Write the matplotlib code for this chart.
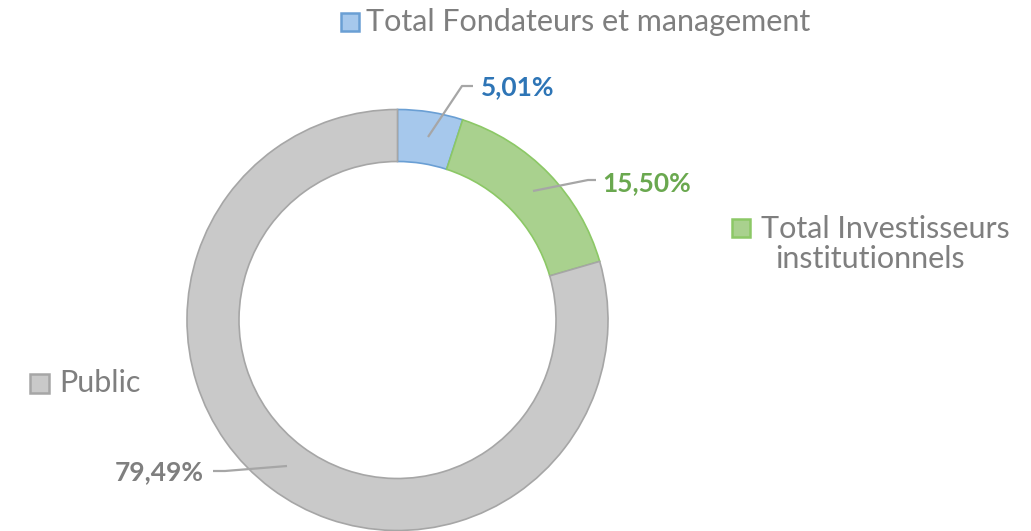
import matplotlib
matplotlib.use("Agg")
import matplotlib.pyplot as plt
from matplotlib.patches import Rectangle

# Shareholding breakdown
categories = ["Total Fondateurs et management", "Total Investisseurs\ninstitutionnels", "Public"]
shares = [5.01, 15.50, 79.49]
fill_colors = ["#a6c8ec", "#a9d18e", "#c9c9c9"]
edge_colors = ["#6a9fd4", "#8cc866", "#a6a6a6"]
label_colors = ["#2e75b6", "#6aa84f", "#7f7f7f"]

W, H = 1031, 531
plt.rcParams["font.family"] = ["Lato", "DejaVu Sans"]

fig = plt.figure(figsize=(W / 100, H / 100), dpi=100)
ax = fig.add_axes([0, 0, 1, 1])
ax.set_xlim(0, W)
ax.set_ylim(0, H)
ax.set_aspect("equal")
ax.axis("off")


def Y(y):
    """Convert a top-down pixel row into the axes' bottom-up coordinate."""
    return H - y


cx, cy, r_out, ring = 397.5, 320, 210.5, 52
wedges, _ = ax.pie(
    shares, colors=fill_colors, startangle=90, counterclock=False,
    radius=r_out, center=(cx, Y(cy)),
    wedgeprops=dict(width=ring, linewidth=1.2),
)
for w, ec in zip(wedges, edge_colors):
    w.set_edgecolor(ec)

ax.set_xlim(0, W)
ax.set_ylim(0, H)


def pct(v):
    return f"{v:.2f}%".replace(".", ",")


# Data labels with leader lines (points given top-down)
leaders = [
    [(428, 137), (462, 86), (473, 86)],
    [(533, 191), (588, 180), (596, 180)],
    [(287, 466), (225, 471), (213, 471)],
]
label_pos = [(481, 87, "left"), (602, 183, "left"), (204, 472, "right")]
for v, pts, (lx, ly, ha), col in zip(shares, leaders, label_pos, label_colors):
    ax.plot([p[0] for p in pts], [Y(p[1]) for p in pts], color="#a6a6a6", lw=1.6,
            solid_capstyle="butt")
    ax.text(lx, Y(ly), pct(v), ha=ha, va="center", fontsize=19, fontweight="bold",
            color=col)

# Legend entries placed around the ring
legend_items = [
    (341, 13, 18, 366, 22, "left"),
    (732, 219, 18, 870, 244, "center"),
    (30, 374, 19, 59, 383, "left"),
]
for name, fc, ec, (sx, sy, s, tx, ty, ha) in zip(categories, fill_colors, edge_colors, legend_items):
    ax.add_patch(Rectangle((sx, Y(sy + s)), s, s, facecolor=fc, edgecolor=ec, lw=1.8))
    label = name
    if "\n" in name:
        # indent the first line so the square sits before it
        first, second = name.split("\n")
        label = "    " + first + "\n" + second
    ax.text(tx, Y(ty), label, ha=ha, va="center", fontsize=22, color="#7f7f7f",
            multialignment="center", linespacing=1.08)

fig.savefig("out.png", dpi=100, facecolor="white")
